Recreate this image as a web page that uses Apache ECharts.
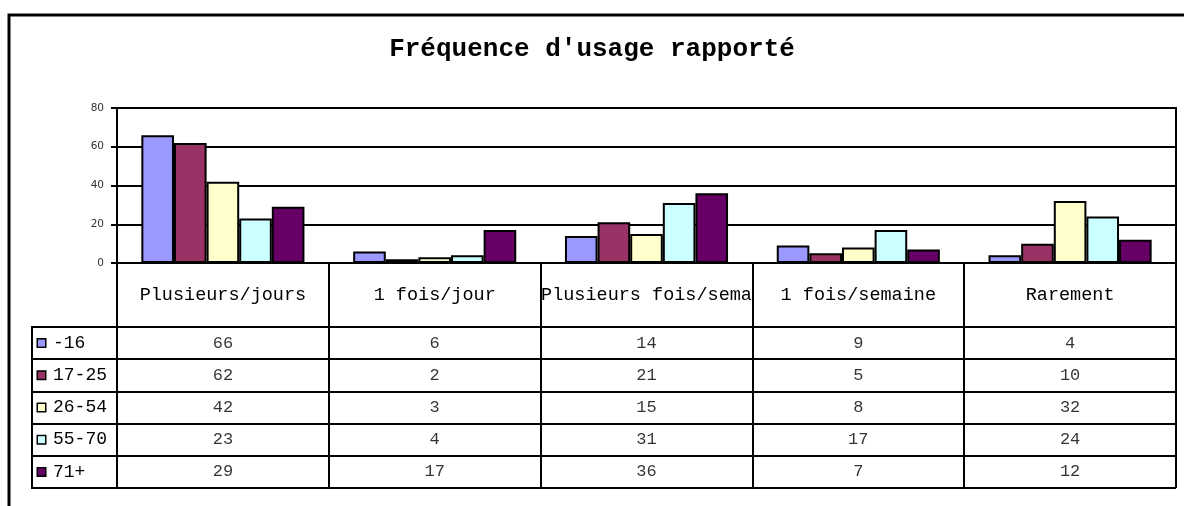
<!DOCTYPE html>
<html>
<head>
<meta charset="utf-8">
<script src="https://cdn.jsdelivr.net/npm/echarts@6/dist/echarts.min.js"></script>
<style>
  html, body { margin: 0; padding: 0; background: #fff; }
  #main { width: 1184px; height: 506px; }
</style>
</head>
<body>
<div id="main"></div>
<script>
// données
var categories = ['Plusieurs/jours', '1 fois/jour', 'Plusieurs fois/semaine', '1 fois/semaine', 'Rarement'];
var ageGroups = ['-16', '17-25', '26-54', '55-70', '71+'];
var v16 = [66, 6, 14, 9, 4];
var v17_25 = [62, 2, 21, 5, 10];
var v26_54 = [42, 3, 15, 8, 32];
var v55_70 = [23, 4, 31, 17, 24];
var v71 = [29, 17, 36, 7, 12];
var yTicks = [0, 20, 40, 60, 80];

var colors = ['#9999FF', '#993366', '#FFFFCC', '#CCFFFF', '#660066'];
var values = [v16, v17_25, v26_54, v55_70, v71];
var mono = '"Liberation Mono", "Courier New", monospace';

var myChart = echarts.init(document.getElementById('main'));

// barres
var series = [];
for (var i = 0; i < ageGroups.length; i++) {
    series.push({
        name: ageGroups[i],
        type: 'bar',
        xAxisIndex: 0,
        yAxisIndex: 0,
        barGap: '0%',
        barCategoryGap: '23%',
        data: values[i],
        itemStyle: { color: colors[i], borderColor: '#000', borderWidth: 2 }
    });
}

// cellules du tableau
var cells = [];
for (var s = 0; s < ageGroups.length; s++) {
    for (var c = 0; c < categories.length; c++) {
        cells.push([categories[c], ageGroups[s], values[s][c]]);
    }
}
series.push({
    type: 'scatter',
    xAxisIndex: 1,
    yAxisIndex: 1,
    symbolSize: 1,
    itemStyle: { color: 'rgba(0,0,0,0)' },
    silent: true,
    data: cells,
    label: {
        show: true,
        position: 'inside',
        color: '#000',
        fontFamily: mono,
        fontSize: 17,
        formatter: function (p) { return p.value[2]; }
    }
});

// petits carrés de légende dans la colonne de gauche
var rich = { t: { fontFamily: mono, fontSize: 18, color: '#000', padding: [0, 0, 0, 8] } };
for (var k = 0; k < colors.length; k++) {
    rich['sq' + k] = { width: 7, height: 7, backgroundColor: colors[k], borderColor: '#000', borderWidth: 1.5 };
}

var black2 = { color: '#000', width: 2 };

var option = {
    animation: false,
    backgroundColor: '#fff',
    title: {
        text: "Fréquence d'usage rapporté",
        left: 'center',
        top: 31,
        textStyle: { fontFamily: mono, fontWeight: 'bold', fontSize: 26, color: '#000' }
    },
    graphic: [{
        type: 'rect',
        shape: { x: 9, y: 15, width: 1200, height: 600 },
        style: { fill: null, stroke: '#000', lineWidth: 3 },
        silent: true
    }],
    grid: [
        { left: 117, right: 8, top: 108, height: 155, show: true, borderColor: '#000', borderWidth: 2 },
        { left: 117, right: 8, top: 327, height: 161 },
        { left: 32, width: 85, top: 327, height: 161, show: true, borderColor: '#000', borderWidth: 2 }
    ],
    xAxis: [{
        type: 'category',
        gridIndex: 0,
        data: categories,
        axisLine: { lineStyle: black2 },
        axisTick: { show: true, interval: 0, length: 225, lineStyle: black2 },
        axisLabel: {
            interval: 0,
            margin: 32,
            verticalAlign: 'middle',
            fontFamily: mono,
            fontSize: 18.5,
            color: '#000',
            width: 214,
            overflow: 'truncate',
            ellipsis: ''
        }
    }, {
        type: 'category',
        gridIndex: 1,
        data: categories,
        show: false
    }, {
        type: 'value',
        gridIndex: 2,
        show: false
    }],
    yAxis: [{
        type: 'value',
        gridIndex: 0,
        min: 0,
        max: 80,
        interval: 20,
        axisLine: { show: true, lineStyle: black2 },
        axisTick: { show: true, length: 6, lineStyle: black2 },
        axisLabel: {
            margin: 13,
            fontFamily: '"DejaVu Sans", Verdana, sans-serif',
            fontSize: 10.5,
            color: '#333',
            formatter: function (v) { return yTicks.indexOf(v) >= 0 ? v : ''; }
        },
        splitLine: { show: true, lineStyle: black2 }
    }, {
        type: 'category',
        gridIndex: 1,
        inverse: true,
        data: ageGroups,
        axisLine: { show: true, lineStyle: black2 },
        axisTick: { show: true, interval: 0, length: 85, lineStyle: black2 },
        axisLabel: {
            interval: 0,
            margin: 79,
            align: 'left',
            formatter: function (v) {
                return '{sq' + ageGroups.indexOf(v) + '|}{t|' + v + '}';
            },
            rich: rich
        },
        splitLine: { show: true, interval: 0, lineStyle: black2 }
    }, {
        type: 'value',
        gridIndex: 2,
        show: false
    }],
    series: series
};

myChart.setOption(option);
</script>
</body>
</html>
